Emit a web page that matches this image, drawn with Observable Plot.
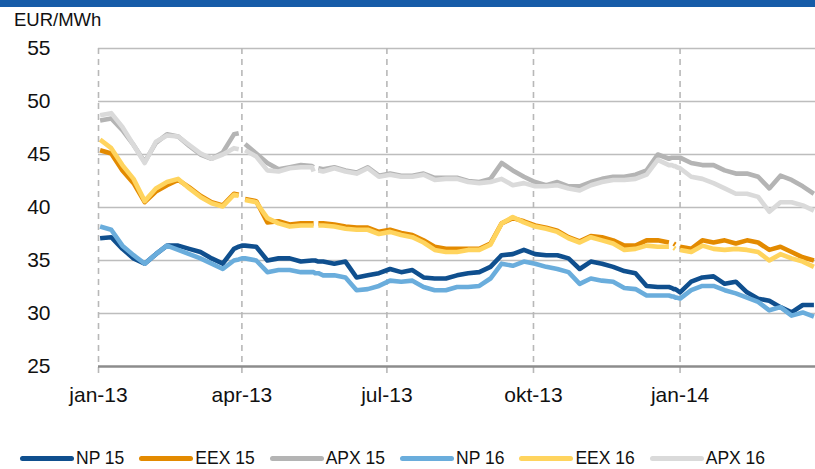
<!DOCTYPE html>
<html><head><meta charset="utf-8">
<script src="https://cdn.jsdelivr.net/npm/d3@7"></script>
<script src="https://cdn.jsdelivr.net/npm/@observablehq/plot@0.6"></script>
<style>
body{margin:0;background:#fff;font-family:"Liberation Sans",Arial,sans-serif;}
#wrap{position:relative;width:815px;height:469px;overflow:hidden;background:#fff;}
#bar{position:absolute;left:0;top:0;width:815px;height:7px;background:#165ca8;}
#unit{position:absolute;left:14px;top:9px;font-size:18.5px;color:#111;}
#chart{position:absolute;left:0;top:0;}
#legend{position:absolute;left:20px;top:449px;display:flex;font-size:17.5px;line-height:19px;color:#111;white-space:nowrap;}
.item{display:flex;align-items:center;margin-right:15px;}
.sw{width:54px;height:5px;border-radius:3px;margin-right:2px;}
</style></head>
<body><div id="wrap"><div id="bar"></div><div id="unit">EUR/MWh</div><div id="chart"></div><div id="legend"></div></div>
<script>
const dates = ["2013-01-02","2013-01-09","2013-01-16","2013-01-23","2013-01-30","2013-02-06","2013-02-13","2013-02-20","2013-02-27","2013-03-06","2013-03-13","2013-03-20","2013-03-27","2013-03-30","2013-04-01","2013-04-03","2013-04-10","2013-04-17","2013-04-24","2013-05-01","2013-05-08","2013-05-15","2013-05-16","2013-05-17","2013-05-19","2013-05-22","2013-05-29","2013-06-05","2013-06-12","2013-06-19","2013-06-26","2013-07-03","2013-07-10","2013-07-17","2013-07-24","2013-07-31","2013-08-07","2013-08-14","2013-08-21","2013-08-28","2013-09-04","2013-09-11","2013-09-18","2013-09-25","2013-10-02","2013-10-09","2013-10-16","2013-10-23","2013-10-30","2013-11-06","2013-11-13","2013-11-20","2013-11-27","2013-12-04","2013-12-11","2013-12-18","2013-12-25","2013-12-27","2013-12-28","2013-12-29","2013-12-30","2014-01-01","2014-01-08","2014-01-15","2014-01-22","2014-01-29","2014-02-05","2014-02-12","2014-02-19","2014-02-26","2014-03-05","2014-03-12","2014-03-19","2014-03-26"];

// null = break in the published series
const np15 = [37.1,37.2,36.1,35.2,34.7,35.6,36.4,36.4,36.1,35.8,35.2,34.7,36.1,36.3,36.4,36.4,36.3,35.0,35.2,35.2,34.9,35.0,35.0,35.0,34.9,34.9,34.7,34.9,33.4,33.6,33.8,34.2,33.9,34.1,33.4,33.3,33.3,33.6,33.8,33.9,34.4,35.5,35.6,36.0,35.6,35.5,35.5,35.2,34.2,34.9,34.7,34.4,34.0,33.8,32.6,32.5,32.5,32.4,32.3,32.3,32.2,32.0,33.0,33.4,33.5,32.8,33.0,32.0,31.4,31.2,30.6,30.1,30.8,30.8];
const eex15 = [45.4,45.1,43.5,42.3,40.5,41.5,42.1,42.6,41.9,41.1,40.5,40.2,41.3,41.2,null,40.8,40.6,38.6,38.7,38.4,38.5,38.5,38.5,null,38.5,38.5,38.4,38.2,38.1,38.1,37.7,37.9,37.6,37.4,36.9,36.3,36.1,36.1,36.1,36.1,36.6,38.5,39.0,38.7,38.3,38.1,37.8,37.2,36.8,37.3,37.2,36.9,36.4,36.4,36.9,36.9,36.7,null,36.6,36.5,null,36.3,36.1,36.9,36.7,36.9,36.6,36.9,36.7,36.0,36.3,35.8,35.3,35.0];
const apx15 = [48.2,48.4,47.3,45.9,44.3,46.1,46.9,46.7,45.8,45.0,44.6,45.2,46.9,47.0,null,46.0,45.1,44.2,43.6,43.8,44.0,43.9,43.8,null,43.7,43.6,43.8,43.5,43.3,43.8,43.0,43.2,43.0,43.0,43.2,42.8,42.8,42.8,42.5,42.4,42.7,44.2,43.5,42.9,42.4,42.1,42.4,42.0,42.0,42.4,42.7,42.9,42.9,43.1,43.5,45.0,44.6,44.7,44.7,44.7,44.7,44.7,44.2,44.0,44.0,43.5,43.2,43.2,42.9,41.8,43.0,42.6,42.0,41.3];
const np16 = [38.2,37.9,36.4,35.5,34.7,35.6,36.4,36.0,35.6,35.2,34.7,34.2,35.0,35.1,35.2,35.2,35.0,33.9,34.1,34.1,33.9,33.9,33.9,33.8,33.8,33.6,33.6,33.4,32.2,32.3,32.6,33.1,33.0,33.1,32.5,32.2,32.2,32.5,32.5,32.6,33.3,34.7,34.5,34.9,34.7,34.4,34.2,33.9,32.8,33.3,33.1,33.0,32.4,32.3,31.7,31.7,31.7,31.6,31.6,31.5,31.5,31.4,32.2,32.6,32.6,32.2,31.9,31.5,31.1,30.3,30.6,29.8,30.1,29.7];
const eex16 = [46.4,45.6,44.0,42.7,40.6,41.8,42.4,42.7,41.8,41.0,40.4,40.1,41.2,41.1,null,40.7,40.5,39.0,38.5,38.2,38.3,38.3,38.3,null,38.3,38.3,38.2,38.0,37.9,37.9,37.5,37.7,37.4,37.2,36.7,36.0,35.8,35.8,36.0,36.0,36.5,38.5,39.1,38.6,38.2,38.0,37.7,37.1,36.7,37.2,36.9,36.6,36.0,36.1,36.4,36.3,36.3,null,36.2,36.1,null,36.0,35.8,36.4,36.1,36.0,36.1,36.0,35.8,35.0,35.6,35.2,34.9,34.4];
const apx16 = [48.7,48.9,47.6,45.9,44.2,46.2,46.8,46.7,45.9,45.1,44.6,45.0,45.6,45.5,null,45.4,44.8,43.5,43.4,43.7,43.8,43.8,43.4,null,43.5,43.4,43.7,43.4,43.2,43.7,42.9,43.1,42.9,42.9,43.1,42.6,42.7,42.7,42.4,42.3,42.4,42.7,42.1,42.3,42.0,42.0,42.1,41.8,41.6,42.1,42.4,42.6,42.6,42.7,43.1,44.5,44.0,44.0,43.9,43.9,43.8,43.7,42.9,42.7,42.3,41.8,41.3,41.3,41.0,39.6,40.5,40.5,40.2,39.7];

const seriesNames = ["NP 15","EEX 15","APX 15","NP 16","EEX 16","APX 16"];
const seriesColors = ["#0f4f8e","#e38a00","#b4b4b4","#6aaddc","#ffd45e","#dadada"];
const seriesValues = [np15, eex15, apx15, np16, eex16, apx16];
const yTicks = [30,35,40,45,50,55];
const quarterTicks = ["2013-01-01","2013-04-01","2013-07-01","2013-10-01","2014-01-01"];
const monthNames = {0:"jan",3:"apr",6:"jul",9:"okt"};

const parse = d3.utcParse("%Y-%m-%d");
const qDates = quarterTicks.map(parse);
const rows = [];
seriesNames.forEach((s,i)=>{
  seriesValues[i].forEach((v,j)=>rows.push({series:s, date:parse(dates[j]), value:v}));
});

const lineMarks = seriesNames.map((s,i)=>Plot.line(rows.filter(r=>r.series===s), {
  x:"date", y:"value", stroke:seriesColors[i], strokeWidth:4.6, strokeLinejoin:"round", strokeLinecap:"butt"
}));

const chart = Plot.plot({
  width:815, height:430,
  marginTop:48, marginBottom:64, marginLeft:98, marginRight:0,
  style:{fontFamily:"'Liberation Sans', Arial, sans-serif", background:"transparent", color:"#111"},
  x:{type:"utc", domain:[parse("2013-01-01"), parse("2014-03-27")]},
  y:{domain:[25,55]},
  marks:[
    Plot.ruleY(yTicks, {stroke:"#bdbdbd", strokeWidth:1.6}),
    Plot.ruleX(qDates, {stroke:"#b8b8b8", strokeWidth:1.6, strokeDasharray:"6,5", insetBottom:-8}),
    Plot.ruleY([25], {stroke:"#8c8c8c", strokeWidth:2.4}),
    ...lineMarks,
    Plot.axisY([25,...yTicks], {tickSize:0, tickPadding:48, fontSize:21, textAnchor:"end", label:null}),
    Plot.axisX(qDates, {tickSize:0, tickPadding:21, fontSize:21, label:null,
      tickFormat:d=>monthNames[d.getUTCMonth()]+"-"+String(d.getUTCFullYear()).slice(2)})
  ]
});
document.getElementById("chart").appendChild(chart);

const leg = document.getElementById("legend");
seriesNames.forEach((s,i)=>{
  const it = document.createElement("div"); it.className="item";
  const sw = document.createElement("div"); sw.className="sw"; sw.style.background=seriesColors[i];
  const tx = document.createElement("span"); tx.textContent=s;
  it.appendChild(sw); it.appendChild(tx); leg.appendChild(it);
});
</script></body></html>
